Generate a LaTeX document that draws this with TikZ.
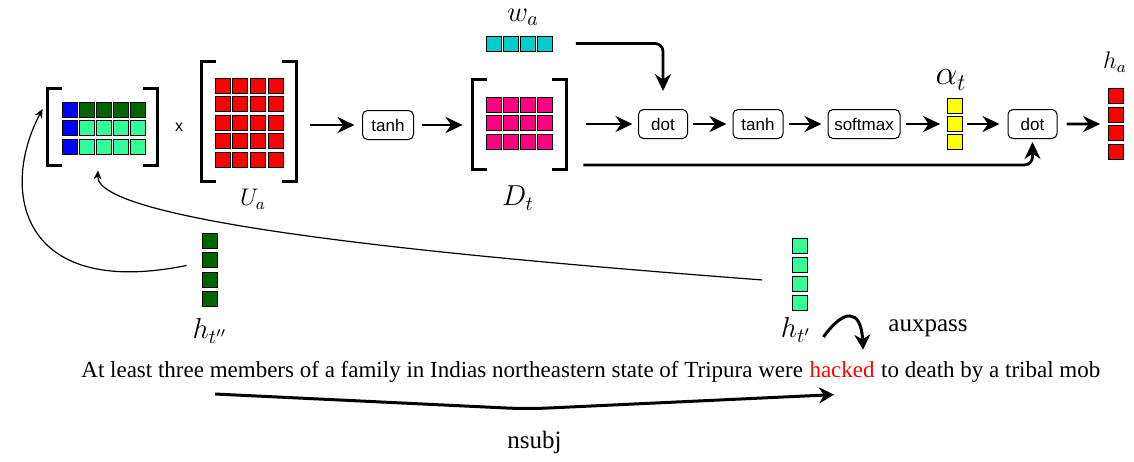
\documentclass[tikz,border=0pt]{standalone}
\usepackage[no-math]{fontspec}
\setmainfont{Liberation Serif}
\newfontfamily\opfont{Liberation Sans}
\usepackage{tikz}
\usetikzlibrary{positioning, fit, arrows.meta}
\definecolor{cellblue}{RGB}{0,0,255}
\definecolor{celldark}{RGB}{0,100,0}
\definecolor{celllight}{RGB}{51,255,153}
\definecolor{cellred}{RGB}{255,0,0}
\definecolor{cellpink}{RGB}{255,0,128}
\definecolor{cellcyan}{RGB}{0,204,204}
\definecolor{cellyellow}{RGB}{255,255,0}

\begin{document}
\begin{tikzpicture}[x=0.5pt, y=-0.5pt,
    cell/.style={draw=black, line width=0.5pt, minimum size=7.5pt, inner sep=0pt},
    frame/.style={inner sep=0pt},
    op/.style={draw, rounded corners=2.5pt, line width=0.5pt, minimum height=14.5pt, inner sep=0pt, font=\opfont\fontsize{8.5}{10}\selectfont},
    lbl/.style={inner sep=0pt},
    word/.style={inner sep=0pt, font=\fontsize{11.5}{14}\selectfont},
    arr/.style={line width=1.4pt, -{Stealth[length=8.5pt, width=8pt]}, shorten <=2.5pt, shorten >=3pt},
    link/.style={line width=0.6pt, -{Stealth[length=4.5pt, width=4pt]}},
    dep/.style={line width=1.5pt, -{Stealth[length=7.5pt, width=8pt]}},
    bracket/.style={line width=1.35pt}]
    \useasboundingbox (0,0) rectangle (1134,461);
    \node (Hmat) [frame, minimum width=54.5pt, minimum height=38pt] at (102.5,127) {};
    \node (Ua) [frame, minimum width=47pt, minimum height=59.5pt] at (249,121.5) {};
    \node (Dt) [frame, minimum width=46.5pt, minimum height=44.5pt] at (519.5,124.5) {};
    \foreach \m in {Hmat,Ua,Dt} {
        \draw[bracket] ([xshift=7pt]\m.north west) -- (\m.north west) -- (\m.south west) -- ([xshift=7pt]\m.south west);
        \draw[bracket] ([xshift=-7pt]\m.north east) -- (\m.north east) -- (\m.south east) -- ([xshift=-7pt]\m.south east);
    }
    \foreach \j in {0,1,2}
        \node (H-0-\j) [cell, fill=cellblue] at (69.5, 109.5+18.5*\j) {};
    \foreach \i in {1,...,4} {
        \node (H-\i-0) [cell, fill=celldark] at (69.5+17.2*\i, 109.5) {};
        \node (H-\i-1) [cell, fill=celllight] at (69.5+17.2*\i, 128) {};
        \node (H-\i-2) [cell, fill=celllight] at (69.5+17.2*\i, 146.5) {};
    }
    \foreach \i in {0,...,3} {
        \foreach \j in {0,...,4}
            \node (U-\i-\j) [cell, fill=cellred] at (222.5+17.7*\i, 85.5+18.5*\j) {};
        \foreach \j in {0,1,2}
            \node (D-\i-\j) [cell, fill=cellpink] at (493.5+17.3*\i, 104.5+18.5*\j) {};
        \node (w-\i) [cell, fill=cellcyan] at (493.5+17.3*\i, 43.5) {};
        \node (ha-\i) [cell, fill=cellred] at (1115.5, 96+18.7*\i) {};
        \node (htpp-\i) [cell, fill=celldark] at (210, 241+19.3*\i) {};
        \node (htp-\i) [cell, fill=celllight] at (799.5, 245.5+19.3*\i) {};
    }
    \foreach \j in {0,1,2}
        \node (alpha-\j) [cell, fill=cellyellow] at (954.5, 106+18*\j) {};
    \node (wa) [frame, fit=(w-0)(w-3)] {};
    \node (alpha) [frame, fit=(alpha-0)(alpha-2)] {};
    \node (ha) [frame, fit=(ha-0)(ha-3)] {};
    \node (htpp) [frame, fit=(htpp-0)(htpp-3)] {};
    \node (htp) [frame, fit=(htp-0)(htp-3)] {};
    \node (times) [inner sep=0pt, font=\opfont\fontsize{8}{9}\selectfont] at (179,127) {x};
    \node (tanhA) [op, minimum width=25.5pt] at (388,125) {tanh};
    \node (dotA) [op, minimum width=24.5pt] at (663,124) {dot};
    \node (tanhB) [op, minimum width=25pt] at (758,124) {tanh};
    \node (softmax) [op, minimum width=36pt] at (864,124) {softmax};
    \node (dotB) [op, minimum width=24.5pt] at (1032.5,124) {dot};
    \node (waLabel) [lbl, font=\fontsize{14.4}{16}\selectfont] at (523,17) {$w_a$};
    \node (alphaLabel) [lbl, font=\fontsize{17.28}{20}\selectfont] at (951,80) {$\alpha_t$};
    \node (haLabel) [lbl, font=\fontsize{12}{15}\selectfont] at (1115,62) {$h_a$};
    \node (UaLabel) [lbl, font=\fontsize{12}{15}\selectfont] at (253,199) {$U_a$};
    \node (DtLabel) [lbl, font=\fontsize{14.4}{16}\selectfont] at (518,198) {$D_t$};
    \node (htppLabel) [lbl, font=\fontsize{14.4}{17}\selectfont] at (210,331) {$h_{t''}$};
    \node (htpLabel) [lbl, font=\fontsize{14.4}{17}\selectfont] at (796,330) {$h_{t'}$};
    \node (sentA) [word, anchor=base west] at (81,377) {At least three members of a family in Indias northeastern state of Tripura were};
    \node (hacked) [word, base right=2.9pt of sentA, text=red] {hacked};
    \node (sentB) [word, base right=2.9pt of hacked] {to death by a tribal mob};
    \node (auxpass) [word, font=\fontsize{12.5}{15}\selectfont, anchor=base west] at (888,331) {auxpass};
    \node (nsubj) [word, font=\fontsize{12.5}{15}\selectfont, anchor=base west] at (507,448) {nsubj};
    \coordinate (nsubjStart) at (215,394);
    \draw[arr, shorten <=7pt, shorten >=3.75pt] (Ua.east |- tanhA) -- (tanhA);
    \draw[arr, shorten <=4pt, shorten >=5pt] (tanhA) -- (tanhA -| Dt.west);
    \draw[arr, shorten <=10pt, shorten >=2.75pt] (Dt.east |- dotA) -- (dotA);
    \draw[arr] (dotA) -- (tanhB);
    \draw[arr] (tanhB) -- (softmax);
    \draw[arr] (softmax) -- (alpha);
    \draw[arr, shorten <=2pt, shorten >=4pt] (alpha) -- (dotB);
    \draw[arr, shorten <=4.5pt, shorten >=3.5pt] (dotB) -- (ha);
    \draw[arr, rounded corners=4pt, shorten <=11pt, shorten >=9pt] (wa.east) -| (dotA.north);
    \draw[arr, rounded corners=4pt, shorten <=0pt, shorten >=1.5pt] ([xshift=8.5pt, yshift=2.25pt]Dt.south east) -| (dotB.south);
    \draw[link] ([xshift=-7.5pt, yshift=2.25pt]htpp.west) .. controls +(-167,34) and +(-43,81) .. ([xshift=-2.5pt, yshift=9pt]Hmat.west);
    \draw[link] ([xshift=-14.5pt, yshift=-2.75pt]htp.west) .. controls +(-263,-20) and +(-3,55) .. ([xshift=-2.25pt, yshift=-2.5pt]Hmat.south);
    \draw[dep] ([xshift=6pt, yshift=-3.5pt]htpLabel.east) .. controls +(20,-28) and +(-2,-42) .. ([xshift=10.5pt, yshift=5.5pt]hacked.north);
    \draw[dep, rounded corners=10pt] (nsubjStart) -- ++(312,15) -- ([xshift=-4pt, yshift=-8.5pt]hacked.south);
\end{tikzpicture}
\end{document}
